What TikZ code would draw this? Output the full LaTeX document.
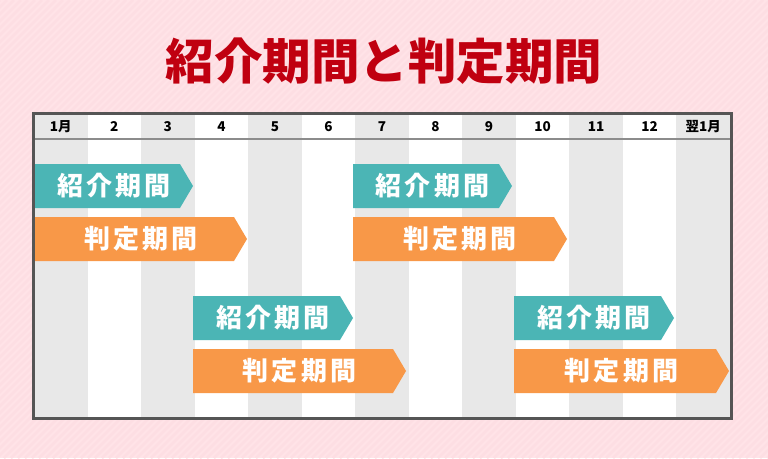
\documentclass[tikz,border=0pt]{standalone}
\usepackage{fontspec}
\newfontfamily\cjk{Noto Sans CJK JP}
\definecolor{bgpink}{RGB}{255,227,231}
\definecolor{stripe}{RGB}{253,222,227}
\definecolor{colgray}{RGB}{232,232,232}
\definecolor{bordergray}{RGB}{85,85,85}
\definecolor{linegray}{RGB}{140,140,140}
\definecolor{titlered}{RGB}{192,0,16}
\definecolor{teal}{RGB}{75,181,181}
\definecolor{orange}{RGB}{248,152,72}
\newcommand\spc{\hspace{3.3pt}}
\newcommand\pbar[6]{%
  \fill[#5] (#2,#4) -- ({#3-13},#4) -- (#3,{#4+22}) -- ({#3-13},{#4+44}) -- (#2,{#4+44}) -- cycle;
  \node[bartext] (#1) at ({(#2+#3)/2},{#4+22}) {#6};}
\tikzset{
  bartext/.style={font=\cjk\bfseries\fontsize{26}{26}\selectfont, text=white, inner sep=0pt},
  headtext/.style={font=\cjk\bfseries\fontsize{13.5}{13.5}\selectfont, text=black, inner sep=0pt},
  titletext/.style={font=\cjk\bfseries\fontsize{48.5}{48.5}\selectfont, text=titlered, inner sep=0pt}
}
\begin{document}
\begin{tikzpicture}[x=1pt,y=-1pt]
\useasboundingbox (0,0) rectangle (768,458);
\fill[bgpink] (0,0) rectangle (768,458);
\begin{scope}
\clip (0,0) rectangle (768,458);
\foreach \i in {0,7,...,1232} \draw[stripe, line width=2.5pt] (\i,0) -- ({\i-458},458);
\end{scope}
\node[titletext] (title) at (384,61.5) {紹介期間と判定期間};
% table
\def\w{53.54}
\fill[white] (34,113) rectangle (730,417);
\foreach \k in {0,2,...,12} \fill[colgray] ({34+\k*\w},113) rectangle ({34+(\k+1)*\w},417);
\draw[linegray, line width=2pt] (34,138.5) -- (730,138.5);
\draw[bordergray, line width=3pt] (33,113) rectangle (731.5,418);
\foreach \lab [count=\k from 0] in {1月,2,3,4,5,6,7,8,9,10,11,12,翌1月}
  \node[headtext] (h\k) at ({34+(\k+0.5)*\w},126.5) {\lab};
% bars
\pbar{t1}{35}{193}{164}{teal}{紹\spc{}介\spc{}期\spc{}間}
\pbar{o1}{35}{247}{217}{orange}{判\spc{}定\spc{}期\spc{}間}
\pbar{t2}{353}{512}{164}{teal}{紹\spc{}介\spc{}期\spc{}間}
\pbar{o2}{353}{567}{217}{orange}{判\spc{}定\spc{}期\spc{}間}
\pbar{t3}{193}{353}{296}{teal}{紹\spc{}介\spc{}期\spc{}間}
\pbar{o3}{193}{406}{349}{orange}{判\spc{}定\spc{}期\spc{}間}
\pbar{t4}{514}{674}{296}{teal}{紹\spc{}介\spc{}期\spc{}間}
\pbar{o4}{514}{729}{349}{orange}{判\spc{}定\spc{}期\spc{}間}
\end{tikzpicture}
\end{document}
